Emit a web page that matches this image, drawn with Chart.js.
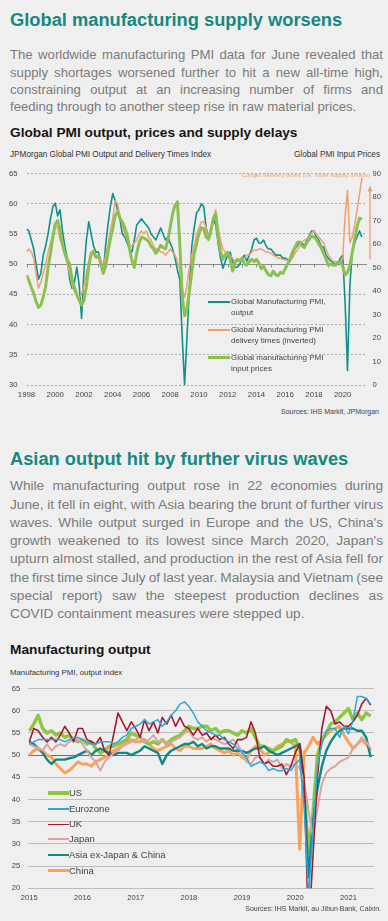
<!DOCTYPE html>
<html>
<head>
<meta charset="utf-8">
<script src="https://cdn.jsdelivr.net/npm/chart.js@4/dist/chart.umd.min.js"></script>
<style>
  body { margin: 0; background: #efefef; width: 388px; height: 921px; position: relative; overflow: hidden;
         font-family: "Liberation Sans", Arial, sans-serif; }
  .abs { position: absolute; }
  .h { position: absolute; left: 10px; font-weight: bold; font-size: 18.3px; line-height: 22px; color: #15897f; white-space: nowrap; }
  .p { position: absolute; left: 10px; width: 373px; color: #7b7b7b; }
  .p div { text-align: justify; text-align-last: justify; word-spacing: -1.5px; }
  .p div.last { text-align-last: left; word-spacing: 0; }
  .t { position: absolute; left: 10px; font-weight: bold; font-size: 13.7px; line-height: 16px; color: #151515; white-space: nowrap; }
  .s { position: absolute; font-size: 8.2px; line-height: 10px; color: #333; white-space: nowrap; }
  .src { position: absolute; font-size: 7px; line-height: 9px; color: #444; white-space: nowrap; }
  .lg1 { position: absolute; left: 231px; font-size: 8px; line-height: 11px; color: #444; white-space: nowrap; }
  .lg2 { position: absolute; left: 69px; font-size: 9.5px; line-height: 12px; color: #444; white-space: nowrap; }
  .ln { position: absolute; }
</style>
</head>
<body>

<div class="h" style="top:9px">Global manufacturing supply worsens</div>
<div class="p" style="top:46.4px; font-size:13.15px; line-height:17.3px">
  <div>The worldwide manufacturing PMI data for June revealed that</div>
  <div>supply shortages worsened further to hit a new all-time high,</div>
  <div>constraining output at an increasing number of firms and</div>
  <div class="last">feeding through to another steep rise in raw material prices.</div>
</div>

<div class="t" style="top:125px">Global PMI output, prices and supply delays</div>
<div class="s" style="top:150px; left:10px">JPMorgan Global PMI Output and Delivery Times Index</div>
<div class="s" style="top:150px; right:8px">Global PMI Input Prices</div>

<div class="abs" style="top:160px; left:0"><canvas id="c1" width="388" height="245"></canvas></div>

<div class="ln" style="left:208px; width:22px; top:301px; height:1.6px; background:#12908c"></div>
<div class="lg1" style="top:296px">Global Manufacturing PMI,<br>output</div>
<div class="ln" style="left:208px; width:22px; top:329px; height:1.6px; background:#efa070"></div>
<div class="lg1" style="top:324px">Global Manufacturing PMI<br>delivery times (inverted)</div>
<div class="ln" style="left:208px; width:22px; top:356px; height:3px; background:#8cc152"></div>
<div class="lg1" style="top:352px">Global manufacturing PMI<br>input prices</div>

<div class="src" style="top:407px; right:9px">Sources: IHS Markit, JPMorgan</div>

<div class="h" style="top:447.6px">Asian output hit by further virus waves</div>
<div class="p" style="top:477.3px; font-size:13.7px; line-height:18.3px">
  <div>While manufacturing output rose in 22 economies during</div>
  <div>June, it fell in eight, with Asia bearing the brunt of further virus</div>
  <div>waves. While output surged in Europe and the US, China's</div>
  <div>growth weakened to its lowest since March 2020, Japan's</div>
  <div>upturn almost stalled, and production in the rest of Asia fell for</div>
  <div>the first time since July of last year. Malaysia and Vietnam (see</div>
  <div>special report) saw the steepest production declines as</div>
  <div class="last">COVID containment measures were stepped up.</div>
</div>

<div class="t" style="top:642px">Manufacturing output</div>
<div class="s" style="top:668px; left:10px; font-size:7.8px">Manufacturing PMI, output index</div>

<div class="abs" style="top:676px; left:0"><canvas id="c2" width="388" height="232"></canvas></div>

<div class="ln" style="left:48px; width:21px; top:791px; height:3.5px; background:#8dc63f"></div>
<div class="lg2" style="top:786.7px">US</div>
<div class="ln" style="left:48px; width:21px; top:808.2px; height:1.6px; background:#2aa8e0"></div>
<div class="lg2" style="top:803px">Eurozone</div>
<div class="ln" style="left:48px; width:21px; top:823.5px; height:1.8px; background:#a6192e"></div>
<div class="lg2" style="top:818.3px">UK</div>
<div class="ln" style="left:48px; width:21px; top:838.3px; height:2.2px; background:#dba3a3"></div>
<div class="lg2" style="top:833.3px">Japan</div>
<div class="ln" style="left:48px; width:21px; top:853.8px; height:2.6px; background:#0e8a80"></div>
<div class="lg2" style="top:849px">Asia ex-Japan &amp; China</div>
<div class="ln" style="left:48px; width:21px; top:869.2px; height:3.2px; background:#f7a35c"></div>
<div class="lg2" style="top:864.7px">China</div>

<div class="src" style="top:904px; right:7px">Sources: IHS Markit, au Jibun Bank, Caixin.</div>

<script>
// ---- chart 1: global PMI, one value every two months from Jan 1998 ----
const c1Start = 1998;
const c1YearTicks = ['1998', '2000', '2002', '2004', '2006', '2008', '2010', '2012', '2014', '2016', '2018', '2020'];

const globalOutput = [
  55.8, 55.5, 54.0, 52.5, 50.0, 47.5,
  48.5, 51.5, 53.0, 55.0, 57.5, 59.5,
  60.1, 58.0, 59.0, 55.5, 53.0, 51.0,
  47.5, 46.0, 47.0, 49.5, 46.5, 41.0,
  49.0, 54.0, 57.0, 55.0, 53.0, 52.0,
  52.0, 50.5, 48.5, 53.0, 56.5, 59.5,
  61.7, 60.5, 59.0, 57.5, 55.0, 54.5,
  53.5, 52.5, 52.0, 54.0, 56.5, 57.0,
  57.5, 57.0, 56.5, 56.0, 55.0, 54.5,
  54.0, 55.0, 56.0, 55.0, 54.0, 54.5,
  53.5, 52.5, 51.0, 49.0, 47.5, 38.0,
  30.0, 38.0, 46.0, 53.0, 56.0, 58.5,
  59.0, 60.0, 59.5, 56.0, 54.5, 55.5,
  57.5, 56.5, 53.5, 51.0, 49.3, 50.5,
  51.5, 52.0, 50.5, 49.5, 49.5, 50.0,
  51.0, 51.5, 50.5, 51.5, 52.5, 54.0,
  54.3, 53.5, 53.5, 54.0, 53.0, 52.5,
  52.5, 52.0, 51.5, 51.5, 51.5, 51.0,
  51.0, 50.8, 50.5, 51.5, 52.5, 53.0,
  53.7, 53.5, 53.0, 54.0, 54.7, 55.5,
  55.5, 54.5, 54.0, 53.0, 52.8, 51.5,
  51.0, 50.5, 50.3, 49.9, 50.0, 51.0,
  51.5, 43.7, 32.4, 46.6, 52.0, 53.5,
  54.5, 55.5, 54.5
];

const deliveryInverted = [
  52.0, 52.5, 52.0, 51.0, 48.5, 46.0,
  47.0, 48.5, 50.0, 52.0, 53.5, 55.0,
  56.5, 56.0, 54.0, 53.0, 51.5, 50.0,
  48.5, 46.5, 45.5, 44.8, 44.5, 45.0,
  46.5, 48.5, 50.5, 52.0, 51.5, 51.0,
  51.0, 50.0, 49.0, 51.5, 53.0, 55.5,
  57.5, 60.5, 60.0, 58.0, 56.5, 55.0,
  54.0, 53.0, 53.0, 53.5, 54.0, 55.0,
  55.5, 55.0, 55.5, 54.5, 54.0, 53.0,
  52.5, 52.5, 52.0, 52.0, 51.5, 52.0,
  52.5, 52.0, 51.5, 50.5, 49.0, 46.0,
  44.5, 46.5, 49.5, 51.5, 53.0, 55.0,
  56.0, 57.0, 57.0, 56.0, 54.0, 55.0,
  57.5, 59.0, 56.0, 54.0, 52.5, 52.0,
  51.5, 51.5, 51.0, 50.5, 50.5, 50.5,
  50.9, 51.0, 51.5, 51.5, 52.0, 52.3,
  52.3, 52.5, 52.5, 52.3, 52.0, 52.0,
  51.8, 51.5, 51.3, 51.0, 51.0, 50.8,
  50.7, 50.6, 50.6, 51.0, 51.8, 52.3,
  53.0, 53.6, 54.0, 54.2, 54.5, 55.2,
  55.6, 55.0, 54.5, 54.0, 53.5, 52.5,
  51.5, 51.0, 50.5, 50.4, 50.2, 50.3,
  51.0, 58.0, 62.2, 53.5, 54.5, 56.5,
  59.0, 61.5, 64.3
];

const inputPrices = [
  46.8, 44.5, 41.5, 39.0, 35.5, 33.0,
  34.0, 37.5, 42.0, 50.0, 56.0, 63.0,
  68.5, 70.0, 66.0, 60.0, 56.0, 53.5,
  51.5, 45.0, 41.5, 38.5, 36.0, 34.0,
  36.0, 42.0, 50.5, 56.0, 57.0, 54.5,
  55.0, 52.0, 47.5, 50.5, 56.5, 62.0,
  66.5, 72.0, 74.0, 71.0, 69.5, 67.0,
  64.0, 58.0, 53.0, 50.0, 56.0, 60.5,
  63.0, 62.5, 62.0, 61.0, 59.0, 58.0,
  56.0, 57.5, 59.5, 58.5, 58.0, 61.5,
  67.0, 73.0, 76.5, 78.0, 60.0, 38.0,
  29.5, 32.5, 40.0, 48.0, 56.0, 60.0,
  64.5, 67.0, 66.5, 63.0, 62.0, 66.0,
  71.0, 73.0, 63.0, 57.0, 53.5, 55.5,
  56.5, 53.5, 48.5, 52.0, 53.5, 53.0,
  54.0, 51.5, 51.0, 52.5, 53.5, 52.5,
  53.5, 52.0, 49.5, 50.5, 48.5, 47.0,
  46.5, 48.5, 47.0, 46.5, 48.0, 47.5,
  49.5, 51.5, 53.5, 56.5, 58.5, 60.6,
  61.0, 59.2, 58.5, 60.5, 62.0, 63.3,
  63.0, 62.0, 60.0, 58.5, 56.0, 53.7,
  51.0, 51.5, 51.0, 51.0, 52.3, 52.5,
  50.5, 46.8, 48.0, 51.0, 56.5, 62.0,
  67.5, 71.0, 70.5
];

// ---- chart 2: output index by region, monthly Jan 2015 - Jun 2021 ----
const c2YearTicks = ['2015', '2016', '2017', '2018', '2019', '2020', '2021'];

const usOutput = [
  55.5, 57.0, 59.0, 56.0, 55.0, 55.5, 54.5, 55.0, 54.0, 54.5, 53.5, 53.0,
  53.5, 52.5, 53.0, 51.5, 50.5, 51.0, 52.0, 52.0, 52.5, 53.0, 53.5, 55.0,
  54.5, 54.0, 53.0, 52.5, 53.0, 52.5, 53.5, 52.5, 53.5, 54.0, 54.5, 55.5,
  56.5, 56.0, 56.0, 56.5, 56.5, 55.5, 56.0, 55.0, 55.5, 55.5, 55.0, 54.5,
  55.5, 55.0, 56.0, 54.0, 52.0, 52.0, 51.5, 51.0, 51.5, 52.0, 53.5, 53.0,
  53.5, 51.5, 42.0, 28.0, 37.0, 50.0, 53.5, 55.0, 57.0, 57.5, 58.5, 59.5,
  60.5, 58.0, 59.5, 58.0, 59.5, 58.8
];
const ezOutput = [
  52.5, 53.0, 53.5, 53.5, 53.5, 53.5, 53.5, 53.5, 53.0, 53.5, 54.0, 54.0,
  53.5, 53.0, 52.5, 52.5, 53.0, 53.0, 53.0, 52.5, 53.0, 54.0, 54.5, 56.0,
  56.5, 57.0, 58.0, 57.0, 57.5, 58.0, 56.5, 57.5, 59.0, 60.0, 61.5, 62.0,
  61.0, 59.5, 57.5, 56.5, 55.5, 55.0, 54.5, 54.5, 53.5, 53.0, 52.5, 51.5,
  50.5, 49.5, 47.5, 48.0, 48.5, 48.0, 46.5, 47.0, 46.5, 46.5, 47.0, 46.5,
  48.0, 49.0, 38.5, 18.1, 33.0, 47.5, 52.5, 55.5, 56.0, 56.0, 54.0, 56.5,
  54.8, 57.6, 63.2, 63.2, 62.8, 61.5
];
const ukOutput = [
  53.0, 56.0, 55.5, 54.0, 53.0, 54.0, 53.0, 54.5, 56.5, 55.0, 53.0, 56.0,
  56.0, 53.5, 53.0, 52.5, 54.0, 51.0, 50.0, 54.5, 59.5, 57.5, 55.5, 57.5,
  56.0, 54.0, 58.0, 55.5, 57.5, 55.0, 58.5, 57.0, 59.0, 56.5, 58.5, 56.5,
  56.0, 54.5, 56.0, 54.5, 55.0, 53.5, 54.5, 53.5, 54.0, 52.5, 51.5, 53.5,
  53.5, 54.0, 57.5, 55.0, 49.5, 48.0, 48.5, 47.5, 47.5, 48.0, 45.6, 47.5,
  50.5, 52.5, 45.0, 9.6, 27.5, 45.0, 56.0, 61.0, 60.0, 57.0, 57.5, 56.5,
  56.5, 57.5, 59.0, 61.5, 62.8, 61.3
];
const japanOutput = [
  52.5, 52.0, 51.5, 51.0, 52.5, 51.0, 52.0, 52.5, 52.0, 53.0, 53.5, 53.5,
  52.5, 51.0, 49.5, 48.5, 46.5, 48.5, 49.5, 50.5, 51.0, 52.0, 52.5, 53.0,
  53.5, 54.0, 53.0, 53.5, 54.5, 53.0, 53.5, 52.5, 53.0, 53.5, 54.0, 55.0,
  55.5, 54.0, 53.5, 54.0, 53.0, 54.0, 53.5, 53.0, 52.5, 53.0, 53.5, 52.5,
  50.5, 48.5, 48.0, 49.5, 49.5, 48.0, 49.0, 48.5, 49.0, 47.0, 48.0, 47.5,
  48.0, 47.0, 44.0, 37.5, 31.5, 38.0, 43.5, 46.0, 47.0, 47.5, 48.5, 49.0,
  49.5, 51.5, 52.5, 54.0, 53.0, 51.5
];
const asiaExOutput = [
  53.0, 52.5, 51.5, 50.5, 49.0, 48.0, 49.0, 49.0, 49.0, 49.3, 49.5, 50.0,
  50.5, 51.0, 50.0, 51.0, 51.5, 51.0, 50.5, 50.0, 50.5, 50.5, 50.5, 50.0,
  50.5, 51.0, 52.0, 51.5, 51.0, 50.5, 48.0, 50.0, 51.0, 51.5, 52.0, 52.5,
  52.5, 53.0, 52.0, 52.5, 51.5, 52.0, 52.0, 51.5, 51.5, 51.5, 51.0, 51.0,
  51.0, 50.5, 51.0, 51.5, 51.5, 52.0, 51.0, 50.5, 50.0, 50.5, 51.0, 51.5,
  52.0, 52.5, 43.0, 22.5, 35.0, 42.5, 47.5, 51.0, 53.0, 54.5, 55.5, 56.0,
  56.0, 56.0, 55.5, 55.5, 54.0, 49.5
];
const chinaOutput = [
  50.0, 51.0, 51.5, 51.0, 50.0, 49.5, 48.0, 47.0, 46.0, 46.5, 47.5, 48.5,
  48.0, 48.0, 47.5, 48.5, 49.0, 49.5, 50.0, 51.0, 51.5, 52.5, 53.0, 53.5,
  53.0, 53.0, 53.5, 52.5, 51.5, 51.0, 51.5, 52.0, 52.5, 51.5, 51.0, 52.0,
  52.0, 51.5, 51.5, 51.5, 52.0, 52.5, 51.5, 51.0, 50.5, 51.0, 50.0, 50.5,
  49.5, 49.0, 51.0, 52.0, 51.5, 50.0, 50.5, 51.0, 52.0, 52.5, 53.0, 53.0,
  52.0, 28.8, 50.5, 52.0, 54.0, 52.5, 53.5, 54.5, 55.5, 56.0, 56.5, 54.5,
  53.0, 51.5, 52.5, 53.5, 52.5, 51.0
];

const font = 'Liberation Sans, Arial, sans-serif';
const bimonthly = (arr) => arr.map((v, k) => ({ x: c1Start + k / 6, y: v }));
const monthly = (arr) => arr.map((v, i) => ({ x: i, y: v }));

// solid 50 line with year ticks, plus the "longer delivery times" note
const chart1Extras = {
  id: 'chart1Extras',
  beforeDatasetsDraw(chart) {
    const { ctx, chartArea, scales } = chart;
    const y = Math.round(scales.y.getPixelForValue(50)) + 0.5;
    ctx.save();
    ctx.strokeStyle = '#8c8c8c';
    ctx.lineWidth = 1;
    ctx.beginPath();
    ctx.moveTo(chartArea.left, y);
    ctx.lineTo(chartArea.right, y);
    for (let yr = 1998; yr <= 2021; yr++) {
      const x = Math.round(scales.x.getPixelForValue(yr)) + 0.5;
      ctx.moveTo(x, y);
      ctx.lineTo(x, y + 3);
    }
    ctx.stroke();
    ctx.restore();
  },
  afterDraw(chart) {
    const { ctx, chartArea, scales } = chart;
    ctx.save();
    ctx.fillStyle = '#eb9e6e';
    ctx.font = '6.2px ' + font;
    ctx.textAlign = 'right';
    ctx.textBaseline = 'middle';
    ctx.fillText('Longer delivery times (i.e. more supply delays)', chartArea.right + 3, chartArea.top + 1.5);
    const ax = chartArea.right + 3;
    const yBottom = scales.y.getPixelForValue(50.8);
    const yTop = chartArea.top + 12;
    ctx.strokeStyle = '#eb9e6e';
    ctx.lineWidth = 1.3;
    ctx.beginPath();
    ctx.moveTo(ax, yBottom);
    ctx.lineTo(ax, yTop + 4);
    ctx.stroke();
    ctx.beginPath();
    ctx.moveTo(ax, yTop);
    ctx.lineTo(ax - 2.5, yTop + 6);
    ctx.lineTo(ax + 2.5, yTop + 6);
    ctx.closePath();
    ctx.fill();
    ctx.restore();
  }
};

new Chart(document.getElementById('c1'), {
  type: 'line',
  data: {
    datasets: [
      { data: bimonthly(inputPrices), yAxisID: 'y2', borderColor: '#8cc152', borderWidth: 3 },
      { data: bimonthly(deliveryInverted), yAxisID: 'y', borderColor: '#efa070', borderWidth: 1.5 },
      { data: bimonthly(globalOutput), yAxisID: 'y', borderColor: '#12908c', borderWidth: 1.6 }
    ]
  },
  options: {
    responsive: false,
    animation: false,
    layout: { padding: { top: 7.7, left: 0, right: 0, bottom: 0 } },
    elements: { point: { radius: 0 }, line: { tension: 0, borderJoinStyle: 'round' } },
    plugins: { legend: { display: false }, tooltip: { enabled: false } },
    scales: {
      x: {
        type: 'linear', min: 1998, max: 2021.69,
        afterBuildTicks: (s) => { s.ticks = c1YearTicks.map((y) => ({ value: Number(y) })); },
        afterFit: (s) => { s.height = 20; },
        grid: { display: false, drawTicks: false },
        border: { display: false },
        ticks: { color: '#444', font: { family: font, size: 7.8 }, padding: 5, maxRotation: 0,
                 callback: (v) => String(v) }
      },
      y: {
        min: 30, max: 65,
        afterFit: (s) => { s.width = 26.5; },
        grid: { color: (c) => c.tick.value === 50 ? 'rgba(0,0,0,0)' : '#9a9a9a', lineWidth: 0.8, drawTicks: false },
        border: { display: false, dash: [2, 2] },
        ticks: { stepSize: 5, color: '#444', font: { family: font, size: 7.6 }, padding: 9 }
      },
      y2: {
        position: 'right', min: 0, max: 90,
        afterFit: (s) => { s.width = 21; },
        grid: { display: false, drawTicks: false },
        border: { display: false },
        ticks: { stepSize: 10, color: '#444', font: { family: font, size: 7.6 }, padding: 5.5 }
      }
    }
  },
  plugins: [chart1Extras]
});

new Chart(document.getElementById('c2'), {
  type: 'line',
  data: {
    datasets: [
      { data: monthly(ezOutput), borderColor: '#2aa8e0', borderWidth: 1.5 },
      { data: monthly(ukOutput), borderColor: '#a6192e', borderWidth: 1.6 },
      { data: monthly(japanOutput), borderColor: '#dba3a3', borderWidth: 2 },
      { data: monthly(asiaExOutput), borderColor: '#0e8a80', borderWidth: 2.4 },
      { data: monthly(usOutput), borderColor: '#8dc63f', borderWidth: 3.4 },
      { data: monthly(chinaOutput), borderColor: '#f7a35c', borderWidth: 3 }
    ]
  },
  options: {
    responsive: false,
    animation: false,
    layout: { padding: { top: 7.3, left: 0, right: 14, bottom: 0 } },
    elements: { point: { radius: 0 }, line: { tension: 0, borderJoinStyle: 'round' } },
    datasets: { line: { clip: 0 } },
    plugins: { legend: { display: false }, tooltip: { enabled: false } },
    scales: {
      x: {
        type: 'linear', min: -0.23, max: 77.76,
        afterBuildTicks: (s) => { s.ticks = c2YearTicks.map((y, k) => ({ value: k * 12 })); },
        afterFit: (s) => { s.height = 19.7; },
        grid: { display: false, drawTicks: false },
        border: { display: false },
        ticks: { color: '#444', font: { family: font, size: 7.6 }, padding: 5.5, maxRotation: 0,
                 callback: (v) => c2YearTicks[Math.round(v / 12)] }
      },
      y: {
        min: 20, max: 65,
        afterFit: (s) => { s.width = 28.3; },
        grid: { color: (c) => c.tick.value === 50 ? '#6e6e6e' : '#bdbdbd', lineWidth: 1, drawTicks: false },
        border: { display: false },
        ticks: { stepSize: 5, color: '#444', font: { family: font, size: 7.6 }, padding: 8 }
      }
    }
  }
});
</script>
</body>
</html>
